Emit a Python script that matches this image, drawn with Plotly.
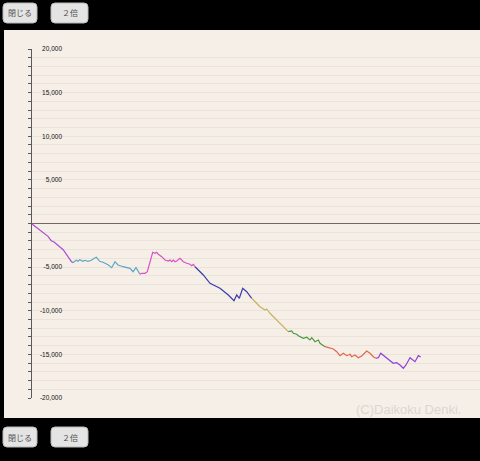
import plotly.graph_objects as go

# ---- data (games, balance) per coloured segment ----
seg1_games = [0, 25, 400, 480, 550, 780, 980, 1020]
seg1_diff = [0, -140, -1470, -1970, -2120, -3000, -4330, -4490]

seg2_games = [1020, 1108, 1150, 1193, 1275, 1318, 1400, 1483, 1568, 1608, 1693, 1775, 1900,
              1993, 2075, 2150, 2275, 2450, 2525, 2600, 2700]
seg2_diff = [-4490, -4217, -4332, -4149, -4332, -4217, -4332, -4217, -3954, -3874, -4332, -4447,
             -4722, -5065, -4378, -4756, -4951, -5134, -5524, -5065, -5822]

seg3_games = [2700, 2742, 2825, 2883, 3018, 3075, 3118, 3158, 3243, 3325, 3408, 3450, 3493, 3533,
              3575, 3618, 3700, 3743, 3783, 3868, 3950, 3993, 4033, 4075]
seg3_diff = [-5822, -5707, -5707, -5524, -3300, -3415, -3300, -3530, -3805, -4183, -4298, -4183,
             -4378, -4183, -4378, -4298, -3988, -4183, -4378, -4561, -4676, -4836, -4676, -4951]

seg4_games = [4075, 4283, 4450, 4700, 4908, 5050, 5118, 5183, 5268, 5368, 5493]
seg4_diff = [-4951, -5902, -6853, -7426, -8194, -8847, -8194, -8572, -7426, -7816, -8572]

seg5_games = [5493, 5700, 5825, 5868, 5950, 6118, 6283, 6408]
seg5_diff = [-8572, -9535, -9913, -9798, -10291, -11059, -11827, -12400]

seg6_games = [6408, 6493, 6533, 6618, 6658, 6783, 6868, 6950, 6993, 7075, 7158, 7200, 7325]
seg6_diff = [-12400, -12320, -12583, -12698, -12858, -13156, -13041, -13351, -13087, -13546,
             -13351, -13729, -14119]

seg7_games = [7325, 7450, 7533, 7618, 7700, 7783, 7868, 7950, 7993, 8075, 8158, 8243, 8368,
              8450, 8533, 8600]
seg7_diff = [-14119, -14302, -14382, -14692, -15150, -14875, -15150, -14990, -15265, -15070,
             -15379, -15185, -14612, -14875, -15265, -15448]

seg8_games = [8600, 8658, 8718, 8825, 8950, 9033, 9118, 9200, 9283, 9350, 9450, 9533, 9575,
              9658, 9718]
seg8_diff = [-15448, -15379, -14875, -15265, -15758, -16021, -15952, -16216, -16594, -16216,
             -15379, -15758, -15838, -15150, -15299]

segment_colors = ["#aa4fd0", "#5fa6c6", "#d852c6", "#3b3bae", "#c9b163",
                  "#4d9a40", "#e0674a", "#8f42d8"]

y_tick_vals = [-20000, -15000, -10000, -5000, 5000, 10000, 15000, 20000]
y_tick_text = ["-20,000", "-15,000", "-10,000", "-5,000", "5,000", "10,000", "15,000", "20,000"]

button_labels = ["閉じる", "２倍"]

# ---- figure ----
W, H = 480, 461
PL, PR, PT, PB = 32, 480, 49, 398  # plot area in px


def px(x):
    return (x - PL) / (PR - PL)


def py(y):
    return (PB - y) / (PB - PT)


fig = go.Figure()
segments = [(seg1_games, seg1_diff), (seg2_games, seg2_diff), (seg3_games, seg3_diff),
            (seg4_games, seg4_diff), (seg5_games, seg5_diff), (seg6_games, seg6_diff),
            (seg7_games, seg7_diff), (seg8_games, seg8_diff)]
for (g, d), c in zip(segments, segment_colors):
    fig.add_trace(go.Scatter(x=g, y=d, mode="lines", line=dict(color=c, width=1.2),
                             hoverinfo="skip", showlegend=False))
fig.add_trace(go.Scatter(x=[], y=[], yaxis="y2", showlegend=False))

shapes = []
# beige panel
shapes.append(dict(type="rect", xref="paper", yref="paper", x0=px(4), x1=px(480),
                   y0=py(418), y1=py(30), fillcolor="#f5efe8", line=dict(width=0),
                   layer="below"))


def rrect(x0, y0, x1, y1, r=4):
    rx = r / (PR - PL)
    ry = r / (PB - PT)
    X0, X1, Y0, Y1 = px(x0), px(x1), py(y1), py(y0)
    return (f"M {X0+rx} {Y0} L {X1-rx} {Y0} Q {X1} {Y0} {X1} {Y0+ry} "
            f"L {X1} {Y1-ry} Q {X1} {Y1} {X1-rx} {Y1} L {X0+rx} {Y1} "
            f"Q {X0} {Y1} {X0} {Y1-ry} L {X0} {Y0+ry} Q {X0} {Y0} {X0+rx} {Y0} Z")


annotations = []
buttons = [(3, 37), (51, 88)]
for (ytop, ybot) in [(3, 23), (427, 447)]:
    for (bx0, bx1), lab in zip(buttons, button_labels):
        shapes.append(dict(type="path", xref="paper", yref="paper",
                           path=rrect(bx0, ytop, bx1, ybot), fillcolor="#e4e4e4",
                           line=dict(color="#b8b8b8", width=1)))
        annotations.append(dict(x=px((bx0 + bx1) / 2), y=py((ytop + ybot) / 2),
                                xref="paper", yref="paper", text=lab, showarrow=False,
                                font=dict(family="Noto Sans CJK JP", size=8, color="#505050"),
                                xanchor="center", yanchor="middle"))

annotations.append(dict(x=px(408), y=py(409), xref="paper", yref="paper",
                        text="(C)Daikoku Denki.", showarrow=False,
                        font=dict(family="Liberation Sans", size=13, color="#dcd6d0"),
                        xanchor="center", yanchor="middle"))

fig.update_layout(
    width=W, height=H,
    margin=dict(l=PL, r=W - PR, t=PT, b=H - PB, pad=0),
    paper_bgcolor="#000000", plot_bgcolor="rgba(0,0,0,0)",
    showlegend=False,
    xaxis=dict(visible=False, range=[0, 11200], fixedrange=True),
    yaxis=dict(range=[-20000, 20000], showline=True, linecolor="#5a5a5a", linewidth=1,
               ticks="outside", ticklen=3, tickcolor="#5a5a5a", tickwidth=1,
               tickvals=y_tick_vals + [0], showticklabels=False,
               showgrid=True, gridcolor="#ebe2d8", gridwidth=1,
               zeroline=True, zerolinecolor="#74675e", zerolinewidth=1,
               minor=dict(dtick=1000, ticks="outside", ticklen=3, tickcolor="#5a5a5a",
                          showgrid=True, gridcolor="#ebe2d8", gridwidth=1)),
    yaxis2=dict(range=[-20000, 20000], overlaying="y", anchor="free", side="left",
                position=px(62), tickvals=y_tick_vals, ticktext=y_tick_text,
                ticks="", showgrid=False, zeroline=False, showline=False,
                tickfont=dict(family="Liberation Sans", size=6.5, color="#111")),
    shapes=shapes, annotations=annotations,
)

fig.write_html("out.html", config={"displayModeBar": False},
               post_script="document.body.style.margin='0';document.body.style.overflow='hidden';")
